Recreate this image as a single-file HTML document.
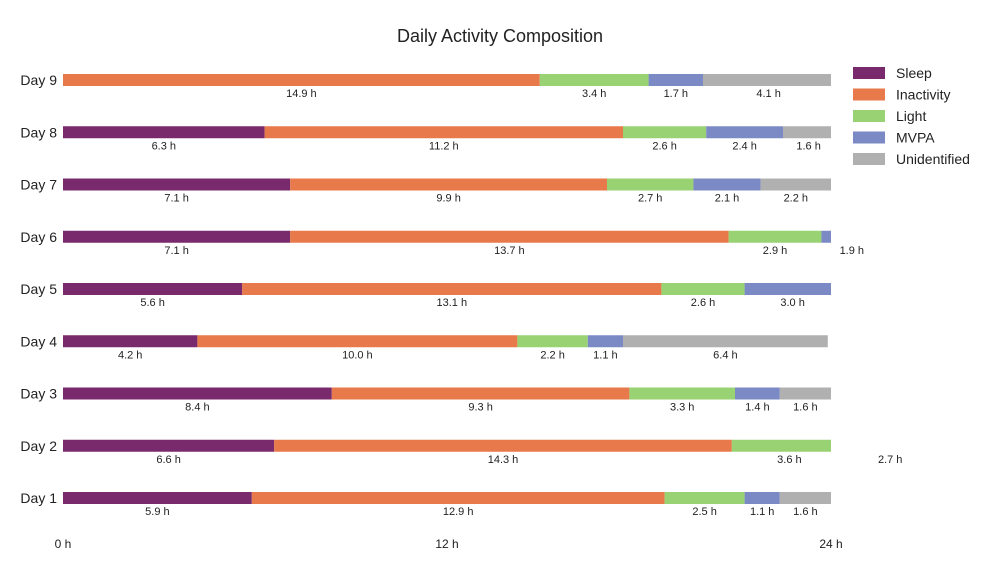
<!DOCTYPE html>
<html><head><meta charset="utf-8"><style>
body{margin:0;background:#fff;font-family:"Liberation Sans",sans-serif;}
svg text{font-family:"Liberation Sans",sans-serif;fill:#222;}
</style></head><body>
<svg id="chart" width="1000" height="569">
<text x="500" y="42" text-anchor="middle" font-size="18">Daily Activity Composition</text>
<clipPath id="clip"><rect x="63" y="0" width="768" height="569"/></clipPath>
<g id="bars" clip-path="url(#clip)"></g>
<g id="labels"></g>
<g id="yaxis"></g>
<g id="xaxis"></g>
<g id="legend"></g>
</svg>
<script>
const days = ["Day 1","Day 2","Day 3","Day 4","Day 5","Day 6","Day 7","Day 8","Day 9"];
const categories = ["Sleep","Inactivity","Light","MVPA","Unidentified"];
const sleep = [5.9,6.6,8.4,4.2,5.6,7.1,7.1,6.3,0];
const inactivity = [12.9,14.3,9.3,10.0,13.1,13.7,9.9,11.2,14.9];
const light = [2.5,3.6,3.3,2.2,2.6,2.9,2.7,2.6,3.4];
const mvpa = [1.1,2.7,1.4,1.1,3.0,1.9,2.1,2.4,1.7];
const unidentified = [1.6,0,1.6,6.4,0,0,2.2,1.6,4.1];
const xTicks = [0,12,24];
const xTickLabels = ["0 h","12 h","24 h"];
const colors = ["#782a6c","#e8794a","#98d273","#7b8ac5","#b0b0b0"];
const series = [sleep,inactivity,light,mvpa,unidentified];
const NS="http://www.w3.org/2000/svg";
function x(v){return 63+v*32;}
function y(i){return 498-i*52.25;}
function mk(tag,attrs,parent){const e=document.createElementNS(NS,tag);for(const k in attrs)e.setAttribute(k,attrs[k]);document.getElementById(parent).appendChild(e);return e;}
days.forEach((d,i)=>{
  let t=mk("text",{x:57,y:y(i)+5,"text-anchor":"end","font-size":14},"yaxis");
  t.textContent=d;
  
  
  let acc=0;
  series.forEach((s,k)=>{
    const v=s[i];
    if(v>0){
      const r=mk("rect",{x:x(acc),y:y(i)-6,width:v*32,height:12,fill:colors[k]},"bars");
      
      
      const l=mk("text",{x:x(acc+v/2),y:y(i)+17,"text-anchor":"middle","font-size":11},"labels");
      l.textContent=v.toFixed(1)+" h";
      
      
    }
    acc+=v;
  });
});
xTicks.forEach((v,i)=>{
  const t=mk("text",{x:x(v),y:548,"text-anchor":"middle","font-size":12},"xaxis");
  t.textContent=xTickLabels[i];
  
  
});
categories.forEach((c,k)=>{
  const yy=73+k*21.5;
  const r=mk("rect",{x:853,y:yy-6,width:32,height:12,fill:colors[k]},"legend");
  
  
  const t=mk("text",{x:896,y:yy+5,"font-size":14},"legend");
  t.textContent=c;
  
  
});
</script>
</body></html>
